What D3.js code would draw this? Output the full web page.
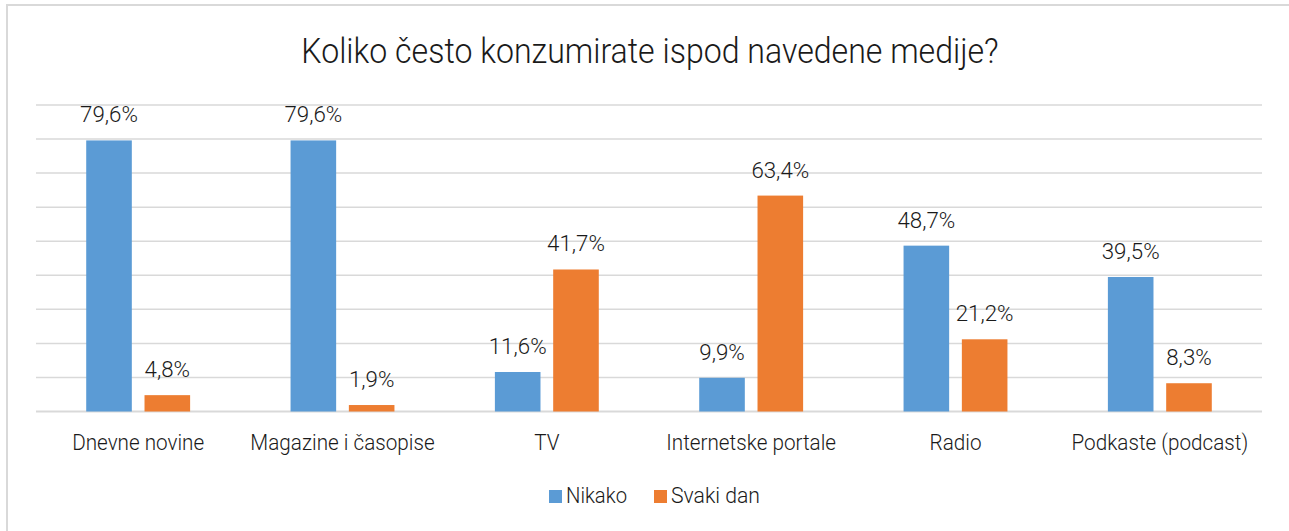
<!DOCTYPE html>
<html>
<head>
<meta charset="utf-8">
<script src="https://cdn.jsdelivr.net/npm/d3@7"></script>
<style>
  html, body { margin: 0; padding: 0; background: #ffffff; }
  svg { display: block; }
  text { font-family: Roboto, "Open Sans", sans-serif; font-weight: 300; fill: #1a1a1a; }
</style>
</head>
<body>
<svg id="chart" width="1289" height="531"></svg>
<script>
// Survey: how often respondents consume each medium
const title = "Koliko često konzumirate ispod navedene medije?";
const categories = ["Dnevne novine", "Magazine i časopise", "TV", "Internetske portale", "Radio", "Podkaste (podcast)"];
const seriesNames = ["Nikako", "Svaki dan"];
const nikako = [79.6, 79.6, 11.6, 9.9, 48.7, 39.5];
const svakiDan = [4.8, 1.9, 41.7, 63.4, 21.2, 8.3];
const gridTicks = [0, 10, 20, 30, 40, 50, 60, 70, 80, 90];
const colors = ["#5b9bd5", "#ed7d31"];

const series = [nikako, svakiDan];
const rows = categories.map((c, i) => ({ cat: c, values: series.map((s, k) => ({ key: seriesNames[k], k, v: s[i] })) }));

const svg = d3.select("#chart");

// narrow text helper: places text at (x, y) and compresses it horizontally
const place = (sx) => (sel, xf, yf) =>
  sel.attr("transform", (d, i) => `translate(${xf(d, i)},${yf(d, i)}) scale(${sx},1)`);

// chart area frame
svg.append("rect")
  .attr("x", 7).attr("y", 5)
  .attr("width", 1300).attr("height", 560)
  .attr("fill", "#ffffff")
  .attr("stroke", "#d9d9d9").attr("stroke-width", 2);

const plot = { left: 36, right: 1262, top: 105, bottom: 411.5 };

const x0 = d3.scaleBand().domain(categories).range([plot.left, plot.right]).paddingInner(0).paddingOuter(0);
const barW = 45.6, barGap = 12.7;
const y = d3.scaleLinear().domain([0, 90]).range([plot.bottom, plot.top]);

// horizontal gridlines
svg.append("g")
  .selectAll("line")
  .data(gridTicks)
  .join("line")
  .attr("x1", plot.left).attr("x2", plot.right)
  .attr("y1", d => y(d)).attr("y2", d => y(d))
  .attr("stroke", "#d9d9d9")
  .attr("stroke-width", d => d === 0 ? 2 : 1.5);

// grouped bars
const groups = svg.append("g")
  .selectAll("g")
  .data(rows)
  .join("g")
  .attr("transform", d => `translate(${x0(d.cat) + x0.bandwidth() / 2},0)`);

const barX = k => (k === 0 ? -(barGap / 2 + barW) : barGap / 2);

groups.selectAll("rect")
  .data(d => d.values)
  .join("rect")
  .attr("x", d => barX(d.k))
  .attr("width", barW)
  .attr("y", d => y(d.v))
  .attr("height", d => y(0) - y(d.v))
  .attr("fill", d => colors[d.k]);

// value labels
const fmt = v => v.toFixed(1).replace(".", ",") + "%";
groups.selectAll("text.val")
  .data(d => d.values)
  .join("text")
  .attr("class", "val")
  .call(place(0.97), d => barX(d.k) + barW / 2, d => y(d.v) - 18)
  .attr("text-anchor", "middle")
  .style("font-size", "23px")
  .text(d => fmt(d.v));

// category axis labels
svg.append("g")
  .selectAll("text")
  .data(categories)
  .join("text")
  .call(place(0.92), d => x0(d) + x0.bandwidth() / 2, () => 450)
  .attr("text-anchor", "middle")
  .style("font-size", "22.5px")
  .text(d => d);

// title
svg.append("text")
  .datum(title)
  .call(place(0.93), () => 650, () => 63)
  .attr("text-anchor", "middle")
  .style("font-size", "34.5px")
  .text(d => d);

// legend
const legend = svg.append("g");
const legendItems = [
  { name: seriesNames[0], x: 549, len: 61 },
  { name: seriesNames[1], x: 654, len: 89 }
];
legendItems.forEach((it, k) => {
  legend.append("rect")
    .attr("x", it.x).attr("y", 490)
    .attr("width", 13).attr("height", 13)
    .attr("fill", colors[k]);
  legend.append("text")
    .attr("x", it.x + 17).attr("y", 503)
    .attr("textLength", it.len)
    .attr("lengthAdjust", "spacingAndGlyphs")
    .style("font-size", "22.5px")
    .text(it.name);
});
</script>
</body>
</html>
